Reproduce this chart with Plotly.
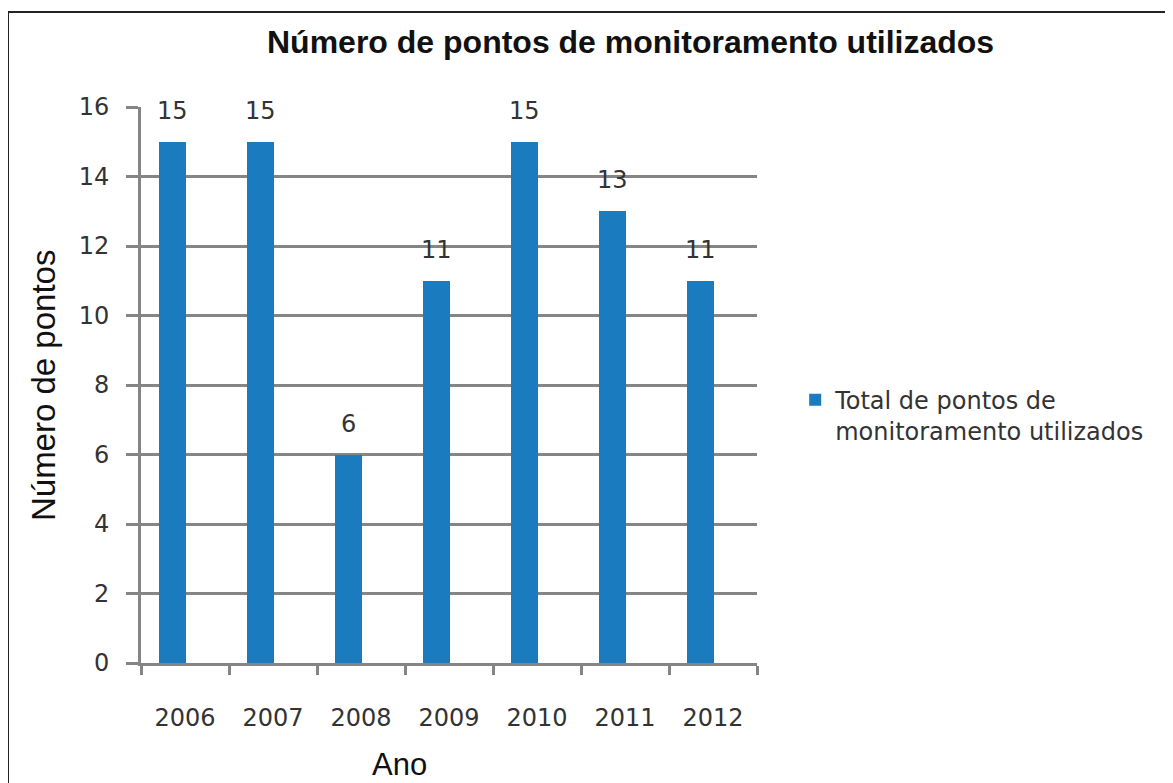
import plotly.graph_objects as go

anos = ['2006', '2007', '2008', '2009', '2010', '2011', '2012']
total_pontos = [15, 15, 6, 11, 15, 13, 11]
nome_serie = 'Total de pontos de<br>monitoramento utilizados'
y_ticks = [0, 2, 4, 6, 8, 10, 12, 14, 16]

azul = '#1b7bbf'
cinza = '#858585'

fig = go.Figure()

fig.add_trace(go.Bar(
    x=anos, y=total_pontos, name=nome_serie,
    marker=dict(color=azul, line=dict(width=0)),
    offset=-0.295, width=0.31,
    showlegend=True,
))

# rotulos de dados acima das barras (posicao pelo indice da categoria)
for i, v in enumerate(total_pontos):
    fig.add_annotation(x=i - 0.14, y=v, xref='x', yref='y', text=str(v), showarrow=False,
                       yshift=31, yanchor='middle',
                       font=dict(family='DejaVu Sans', size=24, color='#333333'))

# titulo e titulos dos eixos
fig.add_annotation(x=0.794, y=1.117, xref='paper', yref='paper',
                   text='Número de pontos de monitoramento utilizados',
                   showarrow=False, xanchor='center', yanchor='middle',
                   font=dict(family='Liberation Sans', size=32, color='#111111', weight='bold'))
fig.add_annotation(x=0.42, y=-0.183, xref='paper', yref='paper', text='Ano',
                   showarrow=False, xanchor='center', yanchor='middle',
                   font=dict(family='Liberation Sans', size=31, color='#111111'))
fig.add_annotation(x=-0.159, y=0.5, xref='paper', yref='paper', text='Número de pontos',
                   showarrow=False, textangle=-90, xanchor='center', yanchor='middle',
                   font=dict(family='Liberation Sans', size=33, color='#111111'))

# moldura
fig.add_shape(type='rect', xref='paper', yref='paper',
              x0=(8 - 141) / 616, x1=(1190 - 141) / 616,
              y0=(663 - 800) / 556, y1=(663 - 12) / 556,
              line=dict(color='#222222', width=2), fillcolor='rgba(0,0,0,0)', layer='below')

fig.update_layout(
    width=1173, height=783,
    margin=dict(l=133, r=424, t=99, b=128),
    paper_bgcolor='white', plot_bgcolor='white',
    bargap=0,
    legend=dict(x=1.062, y=0.513, xanchor='left', yanchor='top', valign='top',
                font=dict(family='DejaVu Sans', size=24, color='#333333'),
                bgcolor='rgba(0,0,0,0)', itemwidth=30, tracegroupgap=0),
)

fig.update_xaxes(type='category', range=[-0.5, 6.5], tickson='boundaries',
                 ticks='outside', ticklen=9, tickwidth=3, tickcolor=cinza,
                 showline=True, linewidth=3, linecolor=cinza, showgrid=False,
                 ticklabelstandoff=31,
                 tickfont=dict(family='DejaVu Sans', size=24, color='#333333'))
fig.update_yaxes(range=[0, 16], tickvals=y_ticks, showgrid=True, gridcolor=cinza, gridwidth=3,
                 zeroline=False, showline=True, linewidth=3, linecolor=cinza,
                 ticks='outside', ticklen=12, tickwidth=3, tickcolor=cinza,
                 ticklabelstandoff=12,
                 tickfont=dict(family='DejaVu Sans', size=24, color='#333333'))

fig.write_html('out.html')
